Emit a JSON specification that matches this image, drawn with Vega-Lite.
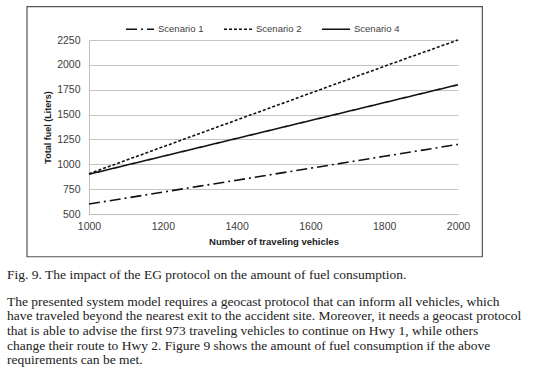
{
  "$schema": "https://vega.github.io/schema/vega-lite/v6.json",
  "width": 369,
  "height": 174,
  "autosize": {"type": "none"},
  "padding": {"left": 89, "top": 40, "right": 76, "bottom": 158},
  "background": "white",
  "config": {
    "view": {"stroke": null},
    "font": "Liberation Sans",
    "axisX": {
      "title": "Number of traveling vehicles",
      "values": [1000, 1200, 1400, 1600, 1800, 2000],
      "format": "d",
      "grid": false,
      "ticks": false,
      "domainColor": "#bfbfbf",
      "labelFlush": false,
      "labelOverlap": false,
      "labelFontSize": 10.5,
      "labelColor": "#404040",
      "labelPadding": 7,
      "titleFontSize": 9.5,
      "titleFontWeight": "bold",
      "titleColor": "#222222",
      "titlePadding": 5
    },
    "axisY": {
      "grid": true,
      "gridColor": "#c4c4c4",
      "ticks": false,
      "domainColor": "#bfbfbf",
      "labelFlush": false,
      "labelOverlap": false,
      "labelFontSize": 10.5,
      "labelColor": "#404040",
      "labelPadding": 9,
      "titleFontSize": 9,
      "titleFontWeight": "bold",
      "titleColor": "#222222",
      "titlePadding": 4
    }
  },
  "title": {
    "text": "Fig. 9. The impact of the EG protocol on the amount of fuel consumption.",
    "subtitle": [
      "The presented system model requires a geocast protocol that can inform all vehicles, which",
      "have traveled beyond the nearest exit to the accident site. Moreover, it needs a geocast protocol",
      "that is able to advise the first 973 traveling vehicles to continue on Hwy 1, while others",
      "change their route to Hwy 2.  Figure 9 shows the amount of fuel consumption if the above",
      "requirements can be met."
    ],
    "orient": "bottom",
    "anchor": "start",
    "frame": "group",
    "dx": -82,
    "offset": 11,
    "font": "Liberation Serif",
    "fontSize": 13.5,
    "fontWeight": "normal",
    "color": "#222222",
    "subtitleFont": "Liberation Serif",
    "subtitleFontSize": 13.5,
    "subtitleColor": "#222222",
    "subtitlePadding": 13,
    "subtitleLineHeight": 14.6
  },
  "layer": [
    {
      "data": {
        "values": [
          {"vehicles": 1000, "scenario": "Scenario 1", "fuel": 600},
          {"vehicles": 1100, "scenario": "Scenario 1", "fuel": 660},
          {"vehicles": 1200, "scenario": "Scenario 1", "fuel": 720},
          {"vehicles": 1300, "scenario": "Scenario 1", "fuel": 780},
          {"vehicles": 1400, "scenario": "Scenario 1", "fuel": 840},
          {"vehicles": 1500, "scenario": "Scenario 1", "fuel": 900},
          {"vehicles": 1600, "scenario": "Scenario 1", "fuel": 960},
          {"vehicles": 1700, "scenario": "Scenario 1", "fuel": 1020},
          {"vehicles": 1800, "scenario": "Scenario 1", "fuel": 1080},
          {"vehicles": 1900, "scenario": "Scenario 1", "fuel": 1140},
          {"vehicles": 2000, "scenario": "Scenario 1", "fuel": 1200},
          {"vehicles": 1000, "scenario": "Scenario 2", "fuel": 905},
          {"vehicles": 1100, "scenario": "Scenario 2", "fuel": 1040},
          {"vehicles": 1200, "scenario": "Scenario 2", "fuel": 1175},
          {"vehicles": 1300, "scenario": "Scenario 2", "fuel": 1310},
          {"vehicles": 1400, "scenario": "Scenario 2", "fuel": 1445},
          {"vehicles": 1500, "scenario": "Scenario 2", "fuel": 1580},
          {"vehicles": 1600, "scenario": "Scenario 2", "fuel": 1715},
          {"vehicles": 1700, "scenario": "Scenario 2", "fuel": 1850},
          {"vehicles": 1800, "scenario": "Scenario 2", "fuel": 1985},
          {"vehicles": 1900, "scenario": "Scenario 2", "fuel": 2118},
          {"vehicles": 2000, "scenario": "Scenario 2", "fuel": 2250},
          {"vehicles": 1000, "scenario": "Scenario 4", "fuel": 900},
          {"vehicles": 1100, "scenario": "Scenario 4", "fuel": 990},
          {"vehicles": 1200, "scenario": "Scenario 4", "fuel": 1080},
          {"vehicles": 1300, "scenario": "Scenario 4", "fuel": 1170},
          {"vehicles": 1400, "scenario": "Scenario 4", "fuel": 1260},
          {"vehicles": 1500, "scenario": "Scenario 4", "fuel": 1350},
          {"vehicles": 1600, "scenario": "Scenario 4", "fuel": 1440},
          {"vehicles": 1700, "scenario": "Scenario 4", "fuel": 1530},
          {"vehicles": 1800, "scenario": "Scenario 4", "fuel": 1620},
          {"vehicles": 1900, "scenario": "Scenario 4", "fuel": 1710},
          {"vehicles": 2000, "scenario": "Scenario 4", "fuel": 1800}
        ]
      },
      "mark": {"type": "line", "strokeWidth": 1.6, "color": "#111111"},
      "encoding": {
        "x": {
          "field": "vehicles",
          "type": "quantitative",
          "scale": {"domain": [1000, 2000], "nice": false, "zero": false},
          "axis": {
            "title": "Number of traveling vehicles",
            "values": [1000, 1200, 1400, 1600, 1800, 2000],
            "format": "d"
          }
        },
        "y": {
          "field": "fuel",
          "type": "quantitative",
          "scale": {"domain": [500, 2250], "nice": false, "zero": false},
          "axis": {
            "title": "Total fuel (Liters)",
            "values": [500, 750, 1000, 1250, 1500, 1750, 2000, 2250],
            "format": "d"
          }
        },
        "strokeDash": {
          "field": "scenario",
          "type": "nominal",
          "scale": {
            "domain": ["Scenario 1", "Scenario 2", "Scenario 4"],
            "range": [[11, 4, 2, 4], [3, 2], [1, 0]]
          },
          "legend": {
            "title": null,
            "orient": "none",
            "direction": "horizontal",
            "legendX": 36,
            "legendY": -26,
            "symbolType": "stroke",
            "symbolSize": 784,
            "symbolStrokeColor": "#111111",
            "symbolStrokeWidth": 1.6,
            "labelFontSize": 9.5,
            "labelColor": "#404040",
            "labelOffset": 3,
            "columnPadding": 16
          }
        }
      }
    },
    {
      "data": {"values": [{}]},
      "mark": {"type": "rect", "fill": "white", "fillOpacity": 0, "stroke": "#555555", "strokeWidth": 1.2, "clip": false},
      "encoding": {
        "x": {
          "datum": 832,
          "type": "quantitative",
          "scale": {"domain": [1000, 2000], "nice": false, "zero": false},
          "axis": {
            "title": "Number of traveling vehicles",
            "values": [1000, 1200, 1400, 1600, 1800, 2000],
            "format": "d"
          }
        },
        "x2": {"datum": 2066},
        "y": {
          "datum": 70,
          "type": "quantitative",
          "scale": {"domain": [500, 2250], "nice": false, "zero": false},
          "axis": {
            "title": "Total fuel (Liters)",
            "values": [500, 750, 1000, 1250, 1500, 1750, 2000, 2250],
            "format": "d"
          }
        },
        "y2": {"datum": 2585}
      }
    }
  ]
}
